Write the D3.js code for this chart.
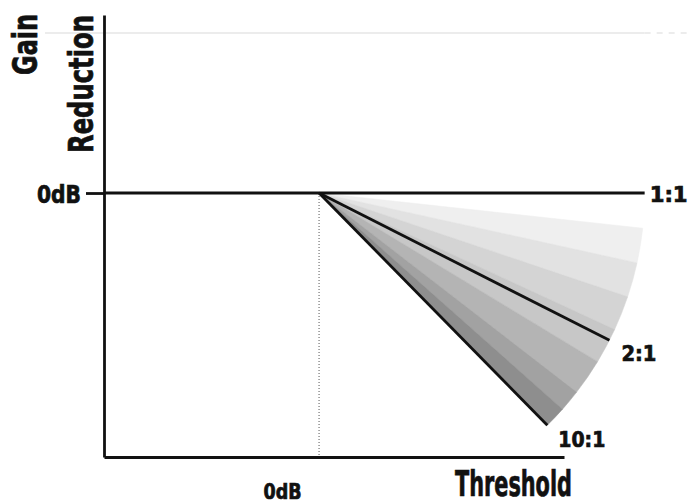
<!DOCTYPE html>
<html>
<head>
<meta charset="utf-8">
<script src="https://cdn.jsdelivr.net/npm/d3@7"></script>
<style>
  body { margin: 0; background: #fff; }
  svg { display: block; }
  .lbl { font-family: "DejaVu Sans Condensed", "DejaVu Sans", sans-serif; font-weight: bold; fill: #111; stroke: #111; stroke-width: 0.7px; }
</style>
</head>
<body>
<svg id="chart"></svg>
<script>
// ratio lines: gain reduction per unit above threshold
var ratioLabels = ["1:1", "2:1", "10:1"];
var ratioSlopes = [0, 0.507, 1.017];
// shaded fan: band edges in degrees below the 1:1 line
var bandEdges = [6.2, 12.4, 18.6, 24.8, 31.2, 37.7, 41.6, 45.5];
var fanReach = 1.514;          // how far the fan runs from the threshold point
var topGuide = [0.741];        // faint guide line near the top
var xTicks = ["0dB"], yTicks = ["0dB"];

var W = 692, H = 504;
var svg = d3.select("#chart").attr("width", W).attr("height", H);

var x = d3.scaleLinear().domain([-1, 1.139]).range([104, 564]);
var y = d3.scaleLinear().domain([-1.222, 0.824]).range([457, 15]);
var px = x(1) - x(0);
var R = fanReach * px;
var ox = x(0), oy = y(0);

var greys = d3.scaleOrdinal().range(["#efefef", "#e2e2e2", "#d4d4d4", "#c7c7c7", "#b4b4b4", "#a2a2a2", "#8e8e8e"]);

// squeeze a text to a given width (condensed look), optionally rotated
function fit(sel, len, rot) {
  sel.each(function () {
    var t = d3.select(this);
    var w = this.getComputedTextLength();
    var tx = +t.attr("x") || 0, ty = +t.attr("y") || 0;
    t.attr("x", 0).attr("y", 0)
      .attr("transform", "translate(" + tx + "," + ty + ")" + (rot ? " rotate(" + rot + ")" : "") + " scale(" + (len / w) + ",1)");
  });
}

// faint guide at top
topGuide.forEach(function (g) {
  svg.append("line").attr("x1", 45).attr("x2", x(0) + R).attr("y1", y(g)).attr("y2", y(g))
    .attr("stroke", "#e6e6e6").attr("stroke-width", 1.5);
  svg.append("line").attr("x1", x(0) + R).attr("x2", W).attr("y1", y(g)).attr("y2", y(g))
    .attr("stroke", "#e6e6e6").attr("stroke-width", 1.5).attr("stroke-dasharray", "6,6");
});

// fan wedges
var arc = d3.arc().innerRadius(0).outerRadius(R);
var bands = d3.pairs(bandEdges);
svg.append("g").attr("transform", "translate(" + ox + "," + oy + ")")
  .selectAll("path").data(bands).join("path")
  .attr("d", function (d) {
    return arc({startAngle: Math.PI / 2 + d[0] * Math.PI / 180, endAngle: Math.PI / 2 + d[1] * Math.PI / 180});
  })
  .attr("fill", function (d, i) { return greys(i); })
  .attr("stroke", function (d, i) { return greys(i); })
  .attr("stroke-width", 0.5);

// dotted threshold marker
svg.append("line").attr("x1", ox).attr("x2", ox).attr("y1", oy).attr("y2", y.range()[0])
  .attr("stroke", "#555").attr("stroke-width", 1).attr("stroke-dasharray", "1,2");

// axes
var yAxis = svg.append("g").attr("transform", "translate(" + x.range()[0] + ",0)")
  .call(d3.axisLeft(y).tickValues([0]).tickFormat(function (d, i) { return yTicks[i]; })
    .tickSizeInner(18).tickSizeOuter(0).tickPadding(5));
yAxis.select(".domain").attr("stroke", "#111").attr("stroke-width", 2.8);
yAxis.selectAll(".tick line").attr("stroke", "#111").attr("stroke-width", 2.8);
yAxis.selectAll(".tick text").attr("class", "lbl").attr("font-size", 25).attr("dy", "0.36em")
  .call(fit, 44);

var xAxis = svg.append("g").attr("transform", "translate(0," + y.range()[0] + ")")
  .call(d3.axisBottom(x).tickValues([0]).tickFormat(function (d, i) { return xTicks[i]; })
    .tickSize(0).tickPadding(27));
xAxis.select(".domain").attr("stroke", "#111").attr("stroke-width", 2.8);
xAxis.selectAll(".tick text").attr("class", "lbl").attr("font-size", 21).attr("x", -37)
  .call(fit, 38);

// ratio lines
var ends = ratioSlopes.map(function (s) {
  var a = Math.atan(s);
  return [ox + R * Math.cos(a), oy + R * Math.sin(a)];
});
svg.selectAll(".ratio").data(ratioSlopes).join("line").attr("class", "ratio")
  .attr("x1", function (d, i) { return i === 0 ? x.range()[0] : ox; })
  .attr("y1", oy)
  .attr("x2", function (d, i) { return ends[i][0]; })
  .attr("y2", function (d, i) { return ends[i][1]; })
  .attr("stroke", "#111").attr("stroke-width", 2.8);

var labOff = [[5, 9], [12, 21], [11, 22]];
var labLen = [38, 35, 47];
svg.selectAll(".rlab").data(ratioLabels).join("text").attr("class", "lbl rlab")
  .attr("x", function (d, i) { return ends[i][0] + labOff[i][0]; })
  .attr("y", function (d, i) { return ends[i][1] + labOff[i][1]; })
  .attr("font-size", 22)
  .text(function (d) { return d; })
  .each(function (d, i) { fit(d3.select(this), labLen[i]); });

// axis titles
svg.append("text").attr("class", "lbl").attr("font-size", 34)
  .attr("x", 37).attr("y", 75).text("Gain").call(fit, 61, -90);
svg.append("text").attr("class", "lbl").attr("font-size", 34)
  .attr("x", 93).attr("y", 153).text("Reduction").call(fit, 138, -90);
svg.append("text").attr("class", "lbl").attr("font-size", 35)
  .attr("x", 455).attr("y", 496).text("Threshold").call(fit, 117);
</script>
</body>
</html>
